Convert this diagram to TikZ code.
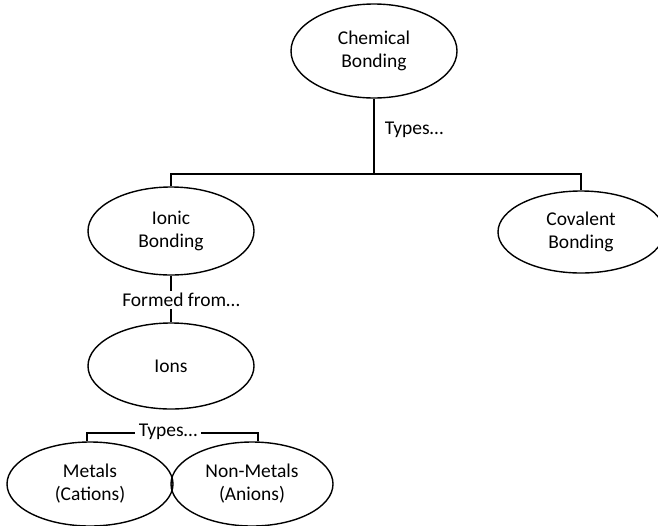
\documentclass[tikz,border=0pt]{standalone}
\usepackage{fontspec}
\setmainfont{Carlito}
\usetikzlibrary{shapes.geometric}
\begin{document}
\begin{tikzpicture}[x=1pt,y=-1pt,
  oval/.style={ellipse,draw,line width=1.4pt,inner sep=0pt,align=center,font=\fontsize{19.5}{23}\selectfont},
  lab/.style={inner sep=3pt,font=\fontsize{19.5}{23}\selectfont},
  conn/.style={line width=2pt}]
\useasboundingbox (0,0) rectangle (658,525);
\node[oval,minimum width=166pt,minimum height=94pt] (chem) at (374,51) {Chemical\\Bonding};
\node[oval,minimum width=166pt,minimum height=88pt] (ionic) at (171,231) {Ionic\\Bonding};
\node[oval,minimum width=166pt,minimum height=82pt] (cov) at (581,232) {Covalent\\Bonding};
\node[oval,minimum width=166pt,minimum height=86pt] (ions) at (171,366) {Ions};
\node[oval,minimum width=166pt,minimum height=84pt] (metals) at (90,484) {Metals\\(Cations)};
\node[oval,minimum width=162pt,minimum height=84pt] (nonmetals) at (252,484) {Non-Metals\\(Anions)};
\node[lab] (types1) at (414,130) {Types…};
\node[lab,inner sep=2pt] (formed) at (181,300) {Formed from…};
\node[lab,inner sep=4pt] (types2) at (168,432) {Types…};
\coordinate (hub) at (374,174);
\coordinate (tl) at (87,433);
\coordinate (tr) at (258,433);
\draw[conn] (chem.south) -- (hub);
\draw[conn] (ionic.north) -- (ionic.north |- hub) -| (cov.north);
\draw[conn] (ionic.south) -- (ionic.south |- formed.north);
\draw[conn] (ions.north |- formed.south) -- (ions.north);
\draw[conn] (types2.west |- tl) -- (tl) -- (tl |- metals.north);
\draw[conn] (types2.east |- tr) -- (tr) -- (tr |- nonmetals.north);
\end{tikzpicture}
\end{document}
